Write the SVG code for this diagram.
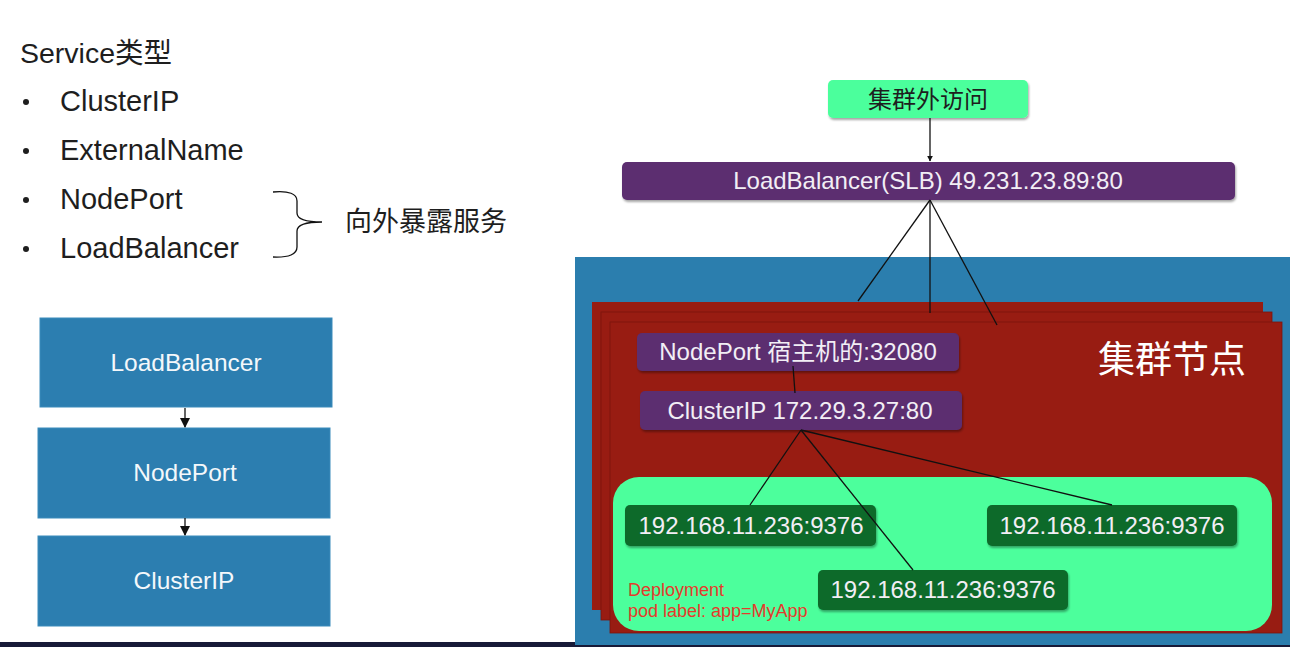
<svg xmlns="http://www.w3.org/2000/svg" width="1290" height="647" viewBox="0 0 1290 647">
<defs>
<style>
text{font-family:"Liberation Sans","Noto Sans CJK SC",sans-serif;}
.lst{font-size:29px;fill:#1e1e1e;}
.blue{fill:#2c7eb0;stroke:#3a8bbb;stroke-width:1;}
.bt{font-size:24.5px;fill:#f4f8fb;text-anchor:middle;}
.purple{fill:#5b2d6f;}
.wt{font-size:24px;fill:#f2eef5;text-anchor:middle;}
.pod{fill:#0b6a2c;}
.card{fill:#981c12;}
.ln{stroke:#111;stroke-width:1.3;fill:none;}
.red{font-size:18px;fill:#e53a2c;}
</style>
<marker id="ah" viewBox="0 0 10 10" refX="9" refY="5" markerWidth="6" markerHeight="6" orient="auto" markerUnits="userSpaceOnUse"><path d="M0,0 L10,5 L0,10 z" fill="#111"/></marker>
<marker id="ah2" viewBox="0 0 10 10" refX="9" refY="5" markerWidth="10" markerHeight="10" orient="auto" markerUnits="userSpaceOnUse"><path d="M0,0 L10,5 L0,10 z" fill="#111"/></marker>
<filter id="sh" x="-5%" y="-20%" width="110%" height="150%"><feDropShadow dx="1" dy="2" stdDeviation="1.2" flood-color="#000" flood-opacity="0.35"/></filter>
</defs>
<rect width="1290" height="647" fill="#ffffff"/>
<rect x="0" y="642" width="1290" height="5" fill="#171a38"/>

<g id="title">
<text class="lst" x="20" y="63" style="font-size:28.5px">Service类型</text>
<circle cx="26" cy="102" r="3" fill="#1e1e1e"/>
<text class="lst" x="60" y="111">ClusterIP</text>
<circle cx="26" cy="151" r="3" fill="#1e1e1e"/>
<text class="lst" x="60" y="160">ExternalName</text>
<circle cx="26" cy="200" r="3" fill="#1e1e1e"/>
<text class="lst" x="60" y="209">NodePort</text>
<circle cx="26" cy="249" r="3" fill="#1e1e1e"/>
<text class="lst" x="60" y="258">LoadBalancer</text>
<path class="ln" d="M273,192 Q297,190 297,201 L297,213 Q297,222 322,222 Q297,222 297,231 L297,247 Q297,258 273,257"/>
<text class="lst" x="345" y="231" style="font-size:27px">向外暴露服务</text>
</g>

<g id="left-lb"><rect class="blue" x="40" y="318" width="292" height="89"/><text class="bt" x="186" y="371">LoadBalancer</text></g>
<g id="left-np"><rect class="blue" x="38" y="428" width="292" height="90"/><text class="bt" x="185" y="481">NodePort</text></g>
<g id="left-cip"><rect class="blue" x="38" y="536" width="292" height="90"/><text class="bt" x="184" y="589">ClusterIP</text></g>

<g id="cluster-bg">
<rect x="575" y="257" width="715" height="388" fill="#2b7eae"/>
</g>
<g id="cluster-nodes">
<rect class="card" x="592" y="302" width="671" height="308"/>
<rect class="card" x="601" y="312" width="671" height="308" stroke="#7a150d" stroke-width="0.8"/>
<rect class="card" x="610" y="322" width="672" height="311" stroke="#7a150d" stroke-width="0.8"/>
<text x="1098" y="373" style="font-size:37px;fill:#ffffff">集群节点</text>
</g>
<g id="deployment">
<rect x="613" y="477" width="659" height="154" rx="26" fill="#4cff9c"/>
<text class="red" x="628" y="596">Deployment</text>
<text class="red" x="628" y="617">pod label: app=MyApp</text>
</g>

<g id="external"><rect x="828" y="80" width="200" height="38" rx="5" fill="#4cff9c" filter="url(#sh)"/><text x="928" y="108" style="font-size:24px;fill:#1e1e1e;text-anchor:middle">集群外访问</text></g>
<g id="lb"><rect class="purple" x="622" y="162" width="613" height="38" rx="5" filter="url(#sh)"/><text class="wt" x="928" y="189">LoadBalancer(SLB) 49.231.23.89:80</text></g>
<g id="nodeport"><rect class="purple" x="637" y="333" width="322" height="38" rx="5" filter="url(#sh)"/><text class="wt" x="798" y="360">NodePort 宿主机的:32080</text></g>
<g id="clusterip"><rect class="purple" x="640" y="391" width="322" height="39" rx="5" filter="url(#sh)"/><text class="wt" x="800" y="419">ClusterIP 172.29.3.27:80</text></g>
<g id="pod1"><rect class="pod" x="625" y="505" width="251" height="41" rx="5" filter="url(#sh)"/><text class="wt" x="751" y="534">192.168.11.236:9376</text></g>
<g id="pod2"><rect class="pod" x="987" y="505" width="250" height="41" rx="5" filter="url(#sh)"/><text class="wt" x="1112" y="534">192.168.11.236:9376</text></g>
<g id="pod3"><rect class="pod" x="818" y="570" width="250" height="40" rx="5" filter="url(#sh)"/><text class="wt" x="943" y="598">192.168.11.236:9376</text></g>

<g id="connectors">
<line class="ln" x1="185" y1="408" x2="185" y2="427" stroke-width="2" marker-end="url(#ah2)"/>
<line class="ln" x1="185" y1="518" x2="185" y2="535" stroke-width="2" marker-end="url(#ah2)"/>
<line class="ln" x1="930" y1="118" x2="930" y2="161" marker-end="url(#ah)"/>
<line class="ln" x1="930" y1="200" x2="858" y2="301"/>
<line class="ln" x1="930" y1="200" x2="930" y2="313"/>
<line class="ln" x1="930" y1="200" x2="997" y2="325"/>
<line class="ln" x1="793" y1="366" x2="795" y2="393"/>
<line class="ln" x1="801" y1="430" x2="750" y2="505"/>
<line class="ln" x1="801" y1="430" x2="913" y2="570"/>
<line class="ln" x1="801" y1="430" x2="1112" y2="505"/>
</g>
</svg>
